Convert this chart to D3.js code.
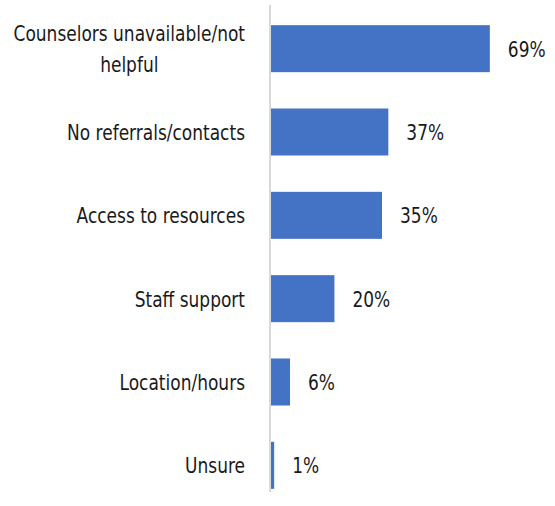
<!DOCTYPE html>
<html>
<head>
<meta charset="utf-8">
<script src="https://cdn.jsdelivr.net/npm/d3@7"></script>
<style>
  html, body { margin: 0; padding: 0; background: #fff; }
  svg text { font-family: "DejaVu Sans Condensed", "Liberation Sans Narrow", sans-serif; fill: #1a1a1a; }
</style>
</head>
<body>
<svg id="chart" width="555" height="506"></svg>
<script>
// Reasons given, top to bottom, with share of respondents (%)
const categories = [
  ["Counselors unavailable/not", "helpful"],
  ["No referrals/contacts"],
  ["Access to resources"],
  ["Staff support"],
  ["Location/hours"],
  ["Unsure"]
];
const values = [69, 37, 35, 20, 6, 1];
const valueLabels = ["69%", "37%", "35%", "20%", "6%", "1%"];

const svg = d3.select("#chart");
const fontSize = 22;
const squeeze = 0.86;   // narrow the glyphs horizontally
const x0 = 271;
const x = d3.scaleLinear().domain([0, 70]).range([x0, x0 + 222]);
const y = d3.scaleBand()
  .domain(d3.range(categories.length))
  .range([7, 507])
  .paddingInner(0.436)
  .paddingOuter(0.218);

// bars
svg.selectAll("rect.bar")
  .data(values)
  .join("rect")
  .attr("class", "bar")
  .attr("x", x(0))
  .attr("y", (d, i) => y(i))
  .attr("width", d => x(d) - x(0))
  .attr("height", y.bandwidth())
  .attr("fill", "#4472c4");

// vertical category axis line
svg.append("line")
  .attr("x1", x0 - 1).attr("x2", x0 - 1)
  .attr("y1", 5).attr("y2", 492)
  .attr("stroke", "#d9d9d9")
  .attr("stroke-width", 2);

// category labels (multi-line labels are centred on their widest line)
const lineH = 31;
const labelRight = 245;
svg.selectAll("g.cat")
  .data(categories)
  .join("g")
  .attr("class", "cat")
  .each(function (lines, i) {
    const cy = y(i) + y.bandwidth() / 2;
    const g = d3.select(this);
    const startY = cy - (lines.length - 1) * lineH / 2;
    lines.forEach((ln, k) => {
      g.append("text")
        .attr("transform", `translate(${labelRight},${startY + k * lineH}) scale(${squeeze},1)`)
        .attr("dy", "0.36em")
        .attr("text-anchor", "end")
        .attr("font-size", fontSize)
        .text(ln);
    });
    if (lines.length > 1) {
      // centre every line on the first one
      const texts = g.selectAll("text").nodes();
      const w0 = texts[0].getComputedTextLength() * squeeze;
      const cx = labelRight - w0 / 2;
      texts.forEach((t, k) => {
        d3.select(t)
          .attr("text-anchor", "middle")
          .attr("transform", `translate(${cx},${startY + k * lineH}) scale(${squeeze},1)`);
      });
    }
  });

// value labels
svg.selectAll("text.val")
  .data(values)
  .join("text")
  .attr("class", "val")
  .attr("transform", (d, i) => `translate(${x(d) + 18},${y(i) + y.bandwidth() / 2}) scale(${squeeze},1)`)
  .attr("dy", "0.36em")
  .attr("font-size", fontSize)
  .text((d, i) => valueLabels[i]);
</script>
</body>
</html>
